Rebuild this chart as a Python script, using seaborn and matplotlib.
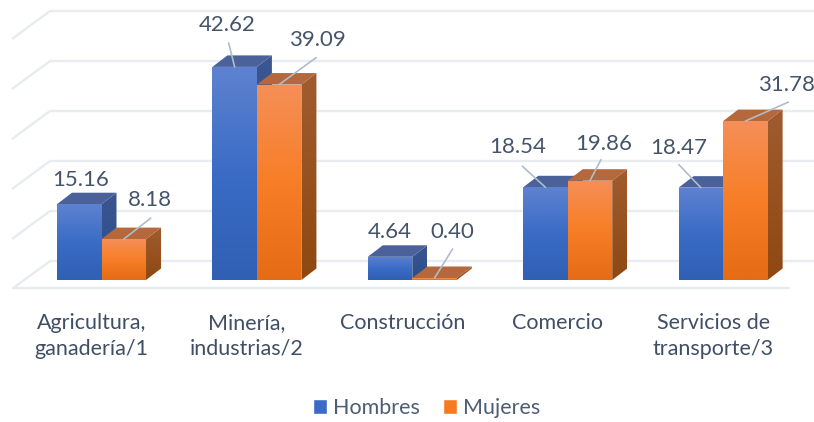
import numpy as np
import pandas as pd
import matplotlib
matplotlib.use("Agg")
import matplotlib.pyplot as plt
from matplotlib.colors import LinearSegmentedColormap
from matplotlib.patches import Polygon
import seaborn as sns

categories = ["Agricultura,\nganadería/1", "Minería,\nindustrias/2", "Construcción",
              "Comercio", "Servicios de\ntransporte/3"]
hombres = [15.16, 42.62, 4.64, 18.54, 18.47]
mujeres = [8.18, 39.09, 0.40, 19.86, 31.78]
wall_ticks = [0, 10, 20, 30, 40, 50]

W, H, DPI = 814, 422, 100
TXT = "#44546a"
GRID = "#e8ebef"
FONT = "Lato"
FS = 15.5
FS_DATA = 16

# label offsets in pixels from the top-centre of each front face
label_off = {"Hombres": [(1, -24), (-7, -42), (0, -25), (-28, -40), (-22, -40)],
             "Mujeres": [(26, -39), (38, -45), (18, -46), (14, -37), (41, -36)]}
leader = {"Hombres": [None, ((-6, -24), (1, 0)), None, ((-23, -21), (0, 0)), ((-22, -23), (0, 0))],
          "Mujeres": [((27, -21), (0, 0)), ((37, -27), (0, 0)), ((18, -29), (0, 0)), ((11, -21), (0, 0)), ((43, -19), (0, 0))]}

shades = {
    "Hombres": dict(front=["#5e82cf", "#3a6cc6", "#2f60b4"], side=["#3b5690", "#2a4d8c"], top="#4a6299"),
    "Mujeres": dict(front=["#f58f58", "#f77e26", "#e56c14"], side=["#a05c30", "#8f4810"], top="#b5683c"),
}

df = pd.DataFrame({"Sector": categories * 2,
                   "Valor": hombres + mujeres,
                   "Sexo": ["Hombres"] * 5 + ["Mujeres"] * 5})

sns.set_theme(style="white")
plt.rcParams["font.family"] = FONT

fig = plt.figure(figsize=(W / DPI, H / DPI), dpi=DPI)
floor_px = 288
ax = fig.add_axes([0, (H - floor_px) / H, 1, floor_px / H])

sns.barplot(data=df, x="Sector", y="Valor", hue="Sexo", hue_order=["Hombres", "Mujeres"],
            palette={"Hombres": "#3a6cc6", "Mujeres": "#f47b22"},
            width=0.573, gap=0, saturation=1, dodge=True, ax=ax, zorder=5, legend=True)

px_x = 155.4
px_y = 5.0
ax.set_xlim(-101.5 / px_x, (W - 101.5) / px_x)
ax.set_ylim(-8 / px_y, 280 / px_y)
dx, dy = 15 / px_x, 11.5 / px_y

# back wall and side wall lines
wall_base = 19 / px_y
for t in wall_ticks:
    yw = t + wall_base
    ax.plot([50 / W, 1], [yw, yw], color=GRID, lw=1.7, zorder=1,
            transform=ax.get_yaxis_transform(), solid_capstyle="butt")
    ax.plot([12 / W, 50 / W], [yw - 28 / px_y, yw], color=GRID, lw=1.7, zorder=1,
            transform=ax.get_yaxis_transform(), solid_capstyle="butt")
ax.plot([12 / W, 790 / W], [wall_base - 27 / px_y] * 2, color=GRID, lw=1.7, zorder=1,
        transform=ax.get_yaxis_transform(), clip_on=False, solid_capstyle="butt")


def gradient_poly(verts, colors, z):
    xs, ys = zip(*verts)
    cmap = LinearSegmentedColormap.from_list("g", colors)
    poly = Polygon(verts, closed=True, transform=ax.transData, fc="none", ec="none", zorder=z)
    ax.add_patch(poly)
    im = ax.imshow(np.linspace(0, 1, 128).reshape(-1, 1), cmap=cmap, aspect="auto",
                   extent=(min(xs), max(xs), min(ys), max(ys)), origin="upper", zorder=z)
    im.set_clip_path(poly)


xlim, ylim = ax.get_xlim(), ax.get_ylim()
tops = {}
z = 6
for cont, name in zip(ax.containers, ["Hombres", "Mujeres"]):
    tops[name] = []
    for bar in cont:
        x0, w, h = bar.get_x(), bar.get_width(), bar.get_height()
        tops[name].append((x0 + w / 2, h))

for i in range(len(categories)):
    for cont, name in zip(ax.containers, ["Hombres", "Mujeres"]):
        s = shades[name]
        bar = cont[i]
        x0, w, h = bar.get_x(), bar.get_width(), bar.get_height()
        x1 = x0 + w
        gradient_poly([(x1, 0), (x1 + dx, dy), (x1 + dx, h + dy), (x1, h)], s["side"], z)
        ax.add_patch(Polygon([(x0, h), (x1, h), (x1 + dx, h + dy), (x0 + dx, h + dy)],
                             closed=True, fc=s["top"], ec="none", zorder=z))
        gradient_poly([(x0, 0), (x1, 0), (x1, h), (x0, h)], s["front"], z + 0.1)
        bar.set_visible(False)
        z += 0.2
ax.set_xlim(xlim)
ax.set_ylim(ylim)

# data labels and leader lines
for name in ["Hombres", "Mujeres"]:
    for i, (cx, h) in enumerate(tops[name]):
        ox, oy = label_off[name][i]
        ax.annotate(f"{h:.2f}", xy=(cx, h), xytext=(ox, -oy), textcoords="offset pixels",
                    ha="center", va="center", fontsize=FS_DATA, color=TXT, zorder=30,
                    annotation_clip=False)
        lead = leader[name][i]
        if lead is not None:
            (ax0, ay0), _ = lead
            ax.annotate("", xy=(cx, h), xytext=(ax0, -ay0), textcoords="offset pixels",
                        arrowprops=dict(arrowstyle="-", color="#aebccb", lw=1.2,
                                        shrinkA=0, shrinkB=0), zorder=30)

# axes dressing
ax.set_xticks([i - 10 / px_x for i in range(len(categories))])
ax.set_xticklabels(categories, fontsize=FS, color="#404f66", linespacing=1.36)
ax.tick_params(axis="x", length=0, pad=18)
ax.set_yticks([])
ax.set_xlabel("")
ax.set_ylabel("")
sns.despine(ax=ax, left=True, bottom=True)
ax.patch.set_alpha(0)

handles, labels = ax.get_legend_handles_labels()
ax.legend_.remove()
fig.legend(handles, labels, ncols=2, frameon=False, loc="center",
           bbox_to_anchor=(426.5 / W, 1 - 408 / H), fontsize=FS,
           labelcolor="#4c5d75", handlelength=0.65, handleheight=0.65,
           handletextpad=0.3, columnspacing=1.05)

fig.savefig("out.png", dpi=DPI)
